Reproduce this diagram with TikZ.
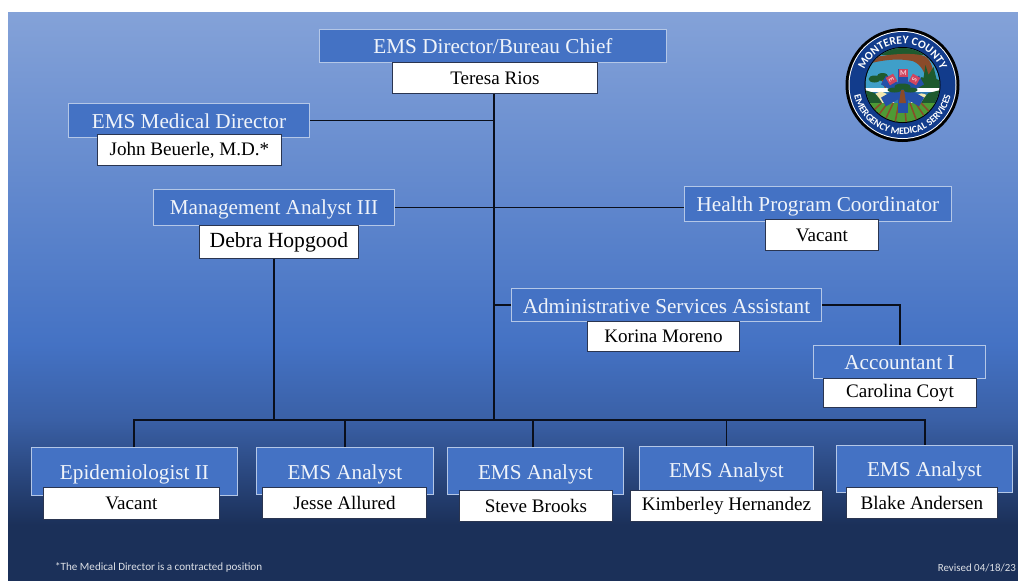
\documentclass[tikz,border=0pt]{standalone}
\usepackage{fontspec}
\setmainfont{Liberation Serif}
\setsansfont{Carlito}
\usetikzlibrary{decorations.text}
\definecolor{bgtop}{HTML}{84A2D8}
\definecolor{bgmid}{HTML}{4472C4}
\definecolor{bglow}{HTML}{3A60A6}
\definecolor{bgbot}{HTML}{1B3059}
\definecolor{tborder}{HTML}{B4C7E7}
\definecolor{nborder}{HTML}{2A3550}
\definecolor{wire}{HTML}{0A0F1C}
\definecolor{lognavy}{HTML}{123C8C}
\definecolor{logsky}{HTML}{3F9FC9}
\definecolor{logdark}{HTML}{1E5A2E}
\definecolor{logbrown}{HTML}{8A4B2A}
\definecolor{logfield}{HTML}{4E9A35}
\definecolor{logcream}{HTML}{F2E6B0}
\definecolor{logstar}{HTML}{2450A8}
\definecolor{logred}{HTML}{D0455F}
\newcommand{\lowtext}[2]{\raisebox{-#1}[\height][\depth]{#2}}
\tikzset{
  x=1pt,y=-1pt,
  titlebox/.style={draw=tborder,line width=0.9pt,fill=bgmid,text=white!92!bgmid,font=\fontsize{21.2}{23}\selectfont,inner sep=0pt,minimum height=#1,anchor=north west},
  namebox/.style={draw=nborder,line width=0.9pt,fill=white,text=black,font=\fontsize{19.1}{21}\selectfont,inner sep=0pt,anchor=north west,minimum height=#1},
  wireline/.style={draw=wire,line width=1.7pt},
  note/.style={font=\sffamily\fontsize{#1}{12}\selectfont,text=white!85!bgbot,inner sep=0pt},
  logoletter/.style={font=\sffamily\bfseries\fontsize{7.5}{8}\selectfont,text=white!70!logred,inner sep=0pt,fill=logred,minimum size=8.5pt}
}
\begin{document}
\begin{tikzpicture}
\useasboundingbox (0,0) rectangle (1018,581);
\fill[white] (0,0) rectangle (1018,581);
\shade[top color=bgtop,bottom color=bgmid] (8,12) rectangle (1018,345);
\shade[top color=bgmid,bottom color=bglow] (8,344.5) rectangle (1018,420);
\shade[top color=bglow,bottom color=bgbot] (8,419.5) rectangle (1018,525);
\fill[bgbot] (8,524.5) rectangle (1018,581);
% coordinates for elbows
\coordinate (busL) at (134,420);
\coordinate (busR) at (925,420);
\coordinate (busM) at (494,420);
\coordinate (busA) at (274,420);
% boxes
\node[titlebox=33pt,minimum width=347pt] (dirT) at (319,29) {EMS Director/Bureau Chief};
\node[titlebox=34pt,minimum width=241pt] (medT) at (68,103) {\lowtext{1pt}{EMS Medical Director}};
\node[titlebox=36pt,minimum width=241pt] (maT) at (153,189) {\lowtext{1.5pt}{Management Analyst III}};
\node[titlebox=35pt,minimum width=267pt] (hpcT) at (684,186) {\lowtext{2.5pt}{Health Program Coordinator}};
\node[titlebox=33pt,minimum width=310pt] (asaT) at (511,288) {\lowtext{1pt}{Administrative Services Assistant}};
\node[titlebox=33pt,minimum width=172pt] (accT) at (813,345) {\lowtext{1pt}{Accountant I}};
\node[titlebox=48pt,minimum width=206pt] (epiT) at (31,447) {\lowtext{3pt}{Epidemiologist II}};
\node[titlebox=47pt,minimum width=177pt] (e1T) at (256,447) {\lowtext{3pt}{EMS Analyst}};
\node[titlebox=47pt,minimum width=176pt] (e2T) at (447,447) {\lowtext{3pt}{EMS Analyst}};
\node[titlebox=46pt,minimum width=174pt] (e3T) at (639,446) {\lowtext{3pt}{EMS Analyst}};
\node[titlebox=47pt,minimum width=176pt] (e4T) at (836,445) {\lowtext{2pt}{EMS Analyst}};
\node[namebox=31pt,minimum width=205pt] (dirN) at (392,62) {Teresa Rios};
\node[namebox=31pt,minimum width=184pt] (medN) at (97,134) {John Beuerle, M.D.*};
\node[namebox=33pt,minimum width=159pt,font=\fontsize{21.6}{23}\selectfont] (maN) at (199,225) {Debra Hopgood};
\node[namebox=31pt,minimum width=113pt] (hpcN) at (765,219) {Vacant};
\node[namebox=30pt,minimum width=152pt] (asaN) at (587,321) {Korina Moreno};
\node[namebox=29pt,minimum width=153pt] (accN) at (823,378) {Carolina Coyt};
\node[namebox=32pt,minimum width=176pt] (epiN) at (43,487) {Vacant};
\node[namebox=31pt,minimum width=164pt] (e1N) at (262,487) {Jesse Allured};
\node[namebox=31pt,minimum width=153pt] (e2N) at (459,490) {Steve Brooks};
\node[namebox=31pt,minimum width=192pt] (e3N) at (630,490) {Kimberley Hernandez};
\node[namebox=31pt,minimum width=151pt] (e4N) at (846,487) {Blake Andersen};
% connectors
\draw[wireline] (dirN.south -| busM) -- (busM);
\draw[wireline,yshift=-0.5pt] (medT.east) -- (medT.east -| busM);
\draw[wireline,yshift=-0.5pt] (maT.east) -- (hpcT.west |- maT.east);
\draw[wireline] (asaT.west) -- (asaT.west -| busM);
\draw[wireline] (asaT.east) -- (asaT.east -| accN.north) -- (accT.north -| accN.north);
\draw[wireline] (busA |- maN.south) -- (busA);
\draw[wireline] (epiT.north -| busL) -- (busL) -- (busR) -- (e4T.north -| busR);
\draw[wireline] (e1T.north) -- (e1T.north |- busL);
\draw[wireline] (533,447) -- (533,420);
\draw[wireline,xshift=0.5pt] (e3T.north) -- (e3T.north |- busL);
% logo
\begin{scope}[shift={(902.5,85)}]
\fill[black] (0,0) circle (57);
\fill[white] (0,0) circle (54);
\fill[lognavy] (0,0) circle (53);
\fill[black] (0,0) circle (38);
\begin{scope}
\clip (0,0) circle (37);
\fill[logsky] (-38,-38) rectangle (38,3);
\fill[logdark] (-38,-38) rectangle (38,-30);
\fill[logbrown] (-38,-25) .. controls (-20,-31) and (10,-33) .. (22,-29) .. controls (30,-25) and (31,-12) .. (33,-2) -- (24,-4) .. controls (22,-14) and (18,-21) .. (10,-24) .. controls (-5,-27) and (-22,-25) .. (-38,-20) -- cycle;
\fill[logdark] (15,3) -- (19,-8) -- (21,-7) -- (23,-20) -- (26,-10) -- (31,-18) -- (34,-6) -- (38,-4) -- (38,3) -- cycle;
\fill[logdark] (-28,-6) ellipse (6 and 3.5) (-20,-8) ellipse (6 and 4) (-13,-5) ellipse (5 and 3);
\draw[logbrown,line width=1.5pt] (-20,-5) -- (-17,3);
\fill[white] (-38,3) rectangle (38,6.5);
\fill[logsky!60!lognavy] (-38,6.5) rectangle (38,20);
\fill[logcream] (-32,19) .. controls (-31,8) and (-22,4) .. (-16,9) .. controls (-12,8) and (-9,12) .. (-8,19) -- cycle;
\fill[logcream] (8,19) .. controls (10,10) and (17,6) .. (24,10) .. controls (28,10) and (30,14) .. (30,19) -- cycle;
\fill[logdark] (-38,5) -- (-28,8) .. controls (-24,12) and (-22,15) .. (-20,19) -- (-38,19) -- cycle;
\fill[logdark] (38,5) -- (26,8) .. controls (22,12) and (20,15) .. (18,19) -- (38,19) -- cycle;
\fill[logfield] (-38,18) rectangle (38,38);
\foreach \a in {-34,-24,-15,-6,3,12,21,30}{\draw[logbrown,line width=1.5pt] (\a*0.62,18) -- (\a*1.25,38);}
\end{scope}
% star of life
\foreach \r in {0,60,120}{\fill[logstar,rotate around={\r:(0,6)}] (-5,-16) rectangle (5,28);}
\node[logoletter] (logoM) at (1,-12) {M};
\node[logoletter,rotate=-60] (logoE) at (-11,-5.5) {E};
\node[logoletter,rotate=60] (logoS) at (12,-5.5) {S};
\fill[logdark] (-8,5) ellipse (7 and 2.5) (8,5) ellipse (7 and 2.5) (0,1.5) ellipse (8 and 3);
\fill[logbrown] (-1.5,5) -- (1.5,5) -- (3.5,18) -- (-3.5,18) -- cycle;
\path[postaction={decorate,decoration={text along path,text align=center,text={|\sffamily\bfseries\fontsize{11.5}{12}\selectfont\color{white}|MONTEREY COUNTY}}}] (-41,0) arc[start angle=180,end angle=360,radius=41];
\path[postaction={decorate,decoration={text along path,text align=center,text={|\sffamily\bfseries\fontsize{10}{12}\selectfont\color{white}|EMERGENCY MEDICAL SERVICES}}}] (-49.5,0) arc[start angle=180,end angle=0,radius=49.5];
\end{scope}
% notes
\node[note=11.1,anchor=west] (fn) at (55,567.5) {*The Medical Director is a contracted position};
\node[note=10.9,anchor=east] (rev) at (1016,568) {Revised 04/18/23};
\end{tikzpicture}
\end{document}
